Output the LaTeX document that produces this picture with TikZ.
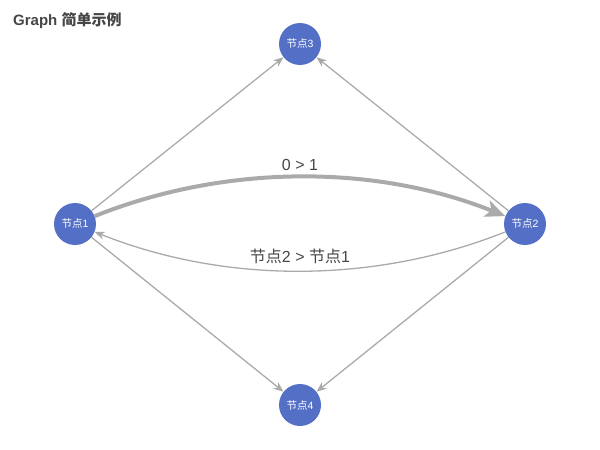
\documentclass[tikz,border=0pt]{standalone}
\usepackage{fontspec}
\setmainfont{Liberation Sans}
\newfontfamily\cjk{Noto Sans CJK SC}
\usetikzlibrary{arrows.meta}

\definecolor{nodeblue}{HTML}{5470C6}
\definecolor{edgegray}{HTML}{AAAAAA}
\definecolor{titlegray}{HTML}{464646}

\tikzset{
    vertex/.style={circle, fill=nodeblue, text=white, minimum size=42pt, inner sep=0pt, font=\fontsize{10.5}{10.5}\selectfont},
    link/.style={draw=edgegray, line width=1.3pt, -{Stealth[length=10pt, width=8pt, inset=3pt]}},
    heavylink/.style={draw=edgegray, line width=4pt, -{Stealth[length=20pt, width=17pt, inset=5pt]}},
    linklabel/.style={text=titlegray, font=\fontsize{16}{16}\selectfont},
}

\begin{document}
\begin{tikzpicture}[x=1pt, y=-1pt]
    \useasboundingbox (0,0) rectangle (600,450);

    \node[anchor=base west, text=titlegray, inner sep=0pt, font=\fontsize{15}{15}\selectfont\bfseries] (title) at (13,25) {Graph {\cjk 简单示例}};

    \node[vertex] (node1) at (75,224)  {{\cjk 节点}1};
    \node[vertex] (node2) at (525,224) {{\cjk 节点}2};
    \node[vertex] (node3) at (300,44)  {{\cjk 节点}3};
    \node[vertex] (node4) at (300,405) {{\cjk 节点}4};

    \draw[link] (node1) -- (node3);
    \draw[link] (node2) -- (node3);
    \draw[link] (node1) -- (node4);
    \draw[link] (node2) -- (node4);

    \draw[heavylink] (node1) .. controls (225,164) and (375,164) .. (node2);
    \draw[link] (node2) .. controls (375,284) and (225,284) .. (node1);

    \node[linklabel] (label12) at (300,165) {0 > 1};
    \node[linklabel] (label21) at (300,256) {{\cjk 节点}2 > {\cjk 节点}1};
\end{tikzpicture}
\end{document}
